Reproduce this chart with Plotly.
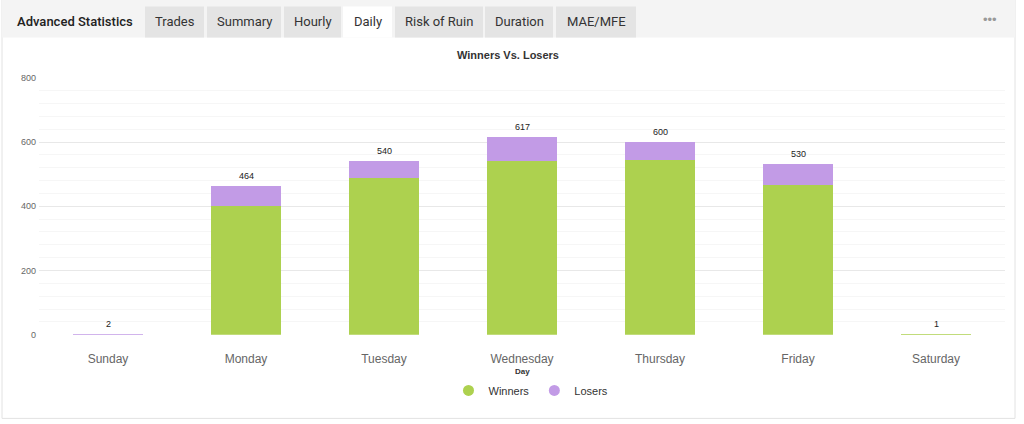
import plotly.graph_objects as go

days = ["Sunday", "Monday", "Tuesday", "Wednesday", "Thursday", "Friday", "Saturday"]
winners = [0, 400, 488, 540, 543, 465, 1]
losers = [2, 64, 52, 77, 57, 65, 0]
totals = [w + l for w, l in zip(winners, losers)]

tabs = ["Trades", "Summary", "Hourly", "Daily", "Risk of Ruin", "Duration", "MAE/MFE"]
tab_left = [145, 207, 284, 343, 395, 485, 556]
tab_right = [204, 281, 341, 392, 483, 553, 636]
active_tab = "Daily"

W, H = 1024, 424
green = "#add14f"
purple = "#c29be6"


def px(x):
    return x / W


def py(y):
    # the snapshot squeezes the page a little vertically, undo that here
    y = (y - 4.5) / 0.9767
    return 1 - y / H


def note(x, y, text, size, color="#333", family="Liberation Sans", xanchor="center"):
    fig.add_annotation(xref="paper", yref="paper", x=px(x), y=py(y), text=text, showarrow=False,
                       xanchor=xanchor, yanchor="middle", font=dict(size=size, color=color, family=family))


fig = go.Figure()
fig.add_trace(go.Bar(x=days, y=winners, name="Winners", marker_color=green,
                     marker_line_width=0, showlegend=False))
fig.add_trace(go.Bar(x=days, y=losers, name="Losers", marker_color=purple,
                     marker_line_width=0, showlegend=False))
# dummy traces so legend gets round symbols
fig.add_trace(go.Scatter(x=[None], y=[None], mode="markers", name="Winners",
                         marker=dict(color=green, size=11, symbol="circle")))
fig.add_trace(go.Scatter(x=[None], y=[None], mode="markers", name="Losers",
                         marker=dict(color=purple, size=11, symbol="circle")))

# totals above stacks
for d, t in zip(days, totals):
    fig.add_annotation(x=d, y=t, text=str(t), showarrow=False, xanchor="center", yanchor="bottom", yshift=3,
                       font=dict(size=9, color="#222", family="Liberation Sans"))

shapes = []
# panel border + header band
shapes.append(dict(type="rect", xref="paper", yref="paper", x0=px(2), x1=px(1015), y0=py(418), y1=py(-10),
                   line=dict(color="#e2e2e2", width=1), fillcolor="white", layer="below"))
shapes.append(dict(type="rect", xref="paper", yref="paper", x0=px(2), x1=px(1015), y0=py(37), y1=py(-10),
                   line=dict(width=0), fillcolor="#f4f4f4", layer="below"))
for name, l, r in zip(tabs, tab_left, tab_right):
    fill = "white" if name == active_tab else "#e4e4e4"
    shapes.append(dict(type="rect", xref="paper", yref="paper", x0=px(l), x1=px(r), y0=py(37), y1=py(6),
                       line=dict(width=0), fillcolor=fill, layer="below"))
    note((l + r) / 2, 21, name, 13, "#333", "Roboto")

note(15, 21, "Advanced Statistics", 13, "#222", "Roboto Medium, Roboto", xanchor="left")
note(990, 19, "•••", 13, "#999")
note(508, 55, "<b>Winners Vs. Losers</b>", 11)
note(522, 371, "<b>Day</b>", 8)

fig.update_layout(
    width=W, height=H,
    margin=dict(l=0, r=0, t=0, b=0),
    paper_bgcolor="white", plot_bgcolor="rgba(0,0,0,0)",
    barmode="stack", bargap=0.49,
    shapes=shapes,
    font=dict(family="Liberation Sans"),
    legend=dict(orientation="h", x=px(531), xanchor="center", y=py(390), yanchor="middle",
                traceorder="normal", itemwidth=30, font=dict(size=11, color="#333"),
                bgcolor="rgba(0,0,0,0)"),
    xaxis=dict(domain=[px(39), px(1005)], showgrid=False, showline=False, zeroline=False,
               tickfont=dict(size=12, color="#666"), ticks="", ticklabelstandoff=15, fixedrange=True),
    yaxis=dict(domain=[py(334.3), py(77.3)], range=[0, 800], dtick=200, gridcolor="#e8e8e8",
               zeroline=False, showline=False, tickfont=dict(size=9, color="#666"),
               ticklabelstandoff=2, fixedrange=True,
               minor=dict(dtick=40, showgrid=True, gridcolor="#f6f6f6")),
)

fig.write_html("out.html", config={"displayModeBar": False},
               post_script="document.body.style.margin='0';document.body.style.overflow='hidden';")
